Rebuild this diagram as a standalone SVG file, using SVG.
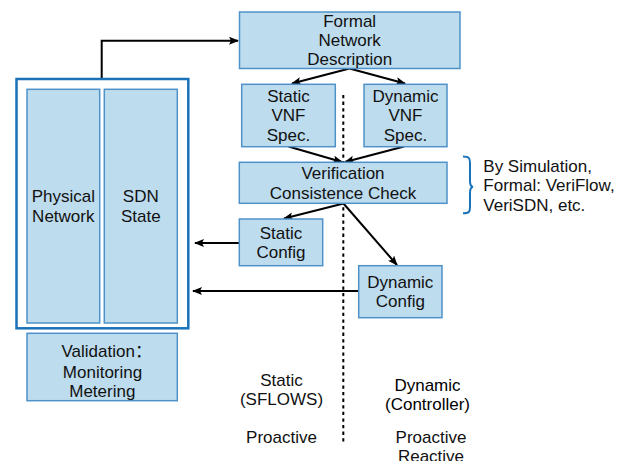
<svg xmlns="http://www.w3.org/2000/svg" width="632" height="461" viewBox="0 0 632 461">
<style>
.box{fill:#bddcee;stroke:#4f92c9;stroke-width:1.5}
.t{font-family:"Liberation Sans","Noto Sans CJK SC",sans-serif;font-size:17px;fill:#111;text-anchor:middle}
.c{fill:none;stroke:#000;stroke-width:2}
</style>
<defs>
<marker id="ah" viewBox="0 0 10 8" refX="9" refY="4" markerWidth="10" markerHeight="8" markerUnits="userSpaceOnUse" orient="auto">
<path d="M0,0 L10,4 L0,8 L2,4 z" fill="#000"/>
</marker>
</defs>
<rect width="632" height="461" fill="#fff"/>
<g id="connectors">
<polyline class="c" points="101.7,79 101.7,40.7 238,40.7" marker-end="url(#ah)"/>
<line class="c" x1="349.5" y1="68.5" x2="292" y2="83.5" marker-end="url(#ah)"/>
<line class="c" x1="349.5" y1="68.5" x2="405" y2="83.5" marker-end="url(#ah)"/>
<line class="c" x1="288.5" y1="146.5" x2="342" y2="162" marker-end="url(#ah)"/>
<line class="c" x1="404" y1="146.5" x2="345" y2="162" marker-end="url(#ah)"/>
<line class="c" x1="343.5" y1="203.5" x2="284" y2="218.5" marker-end="url(#ah)"/>
<line class="c" x1="343.5" y1="203.5" x2="397" y2="265" marker-end="url(#ah)"/>
<line class="c" x1="239" y1="243" x2="195" y2="243" marker-end="url(#ah)"/>
<line class="c" x1="358" y1="291" x2="193" y2="291" marker-end="url(#ah)"/>
<line x1="343.3" y1="95" x2="343.3" y2="442" stroke="#000" stroke-width="2" stroke-dasharray="3.3,3.3"/>
</g>
<g id="formal">
<rect class="box" x="239.5" y="12" width="220.5" height="56.5"/>
<text class="t" x="349.7" y="26.7">Formal</text>
<text class="t" x="349.7" y="46">Network</text>
<text class="t" x="349.7" y="65.3">Description</text>
</g>
<g id="static-vnf">
<rect class="box" x="241.7" y="84.3" width="93.6" height="62.4"/>
<text class="t" x="288.5" y="101.7">Static</text>
<text class="t" x="288.5" y="121.3">VNF</text>
<text class="t" x="288.5" y="140.5">Spec.</text>
</g>
<g id="dynamic-vnf">
<rect class="box" x="364" y="84.3" width="83" height="62.4"/>
<text class="t" x="405.5" y="101.7">Dynamic</text>
<text class="t" x="405.5" y="121.3">VNF</text>
<text class="t" x="405.5" y="140.5">Spec.</text>
</g>
<g id="verification">
<rect class="box" x="239.3" y="162.3" width="207.7" height="41"/>
<text class="t" x="343" y="179.3">Verification</text>
<text class="t" x="343" y="198.7">Consistence Check</text>
</g>
<g id="static-config">
<rect class="box" x="239.3" y="219" width="83.4" height="46.7"/>
<text class="t" x="281" y="239">Static</text>
<text class="t" x="281" y="257.7">Config</text>
</g>
<g id="dynamic-config">
<rect class="box" x="358.7" y="265.7" width="83.3" height="52"/>
<text class="t" x="400.3" y="288.3">Dynamic</text>
<text class="t" x="400.3" y="307.3">Config</text>
</g>
<g id="network">
<rect x="16.5" y="79" width="171.8" height="249.3" fill="#fff" stroke="#1a72b8" stroke-width="2.5"/>
<rect class="box" x="27" y="89.3" width="72.7" height="233.7"/>
<text class="t" x="63.3" y="202.3">Physical</text>
<text class="t" x="63.3" y="221.7">Network</text>
<rect class="box" x="104.3" y="89.3" width="73" height="233.7"/>
<text class="t" x="140.8" y="202.3">SDN</text>
<text class="t" x="140.8" y="221.7">State</text>
</g>
<g id="validation">
<rect class="box" x="27" y="333.3" width="150.3" height="67.4"/>
<text class="t" x="61.5" y="356.7" style="text-anchor:start">Validation：</text>
<text class="t" x="102.5" y="378.3">Monitoring</text>
<text class="t" x="102.3" y="396.7">Metering</text>
</g>
<g id="brace">
<path d="M463,156.5 C469,156.5 470,158 470,163 L470,181 C470,185 471,186.5 473,186.8 C471,187.2 470,189 470,193 L470,207 C470,212 469,213.3 463,213.3" fill="none" stroke="#1a72b8" stroke-width="2"/>
<text class="t" x="483.3" y="171.7" style="text-anchor:start">By Simulation,</text>
<text class="t" x="483.3" y="191.2" style="text-anchor:start">Formal: VeriFlow,</text>
<text class="t" x="483.3" y="210.5" style="text-anchor:start">VeriSDN, etc.</text>
</g>
<g id="labels">
<text class="t" x="281.5" y="385.7">Static</text>
<text class="t" x="281.5" y="405">(SFLOWS)</text>
<text class="t" x="281.5" y="442.7">Proactive</text>
<text class="t" x="427.5" y="390.7" style="fill:#000">Dynamic</text>
<text class="t" x="427.5" y="410" style="fill:#000">(Controller)</text>
<text class="t" x="431" y="442.7">Proactive</text>
<text class="t" x="431" y="462">Reactive</text>
</g>
</svg>
